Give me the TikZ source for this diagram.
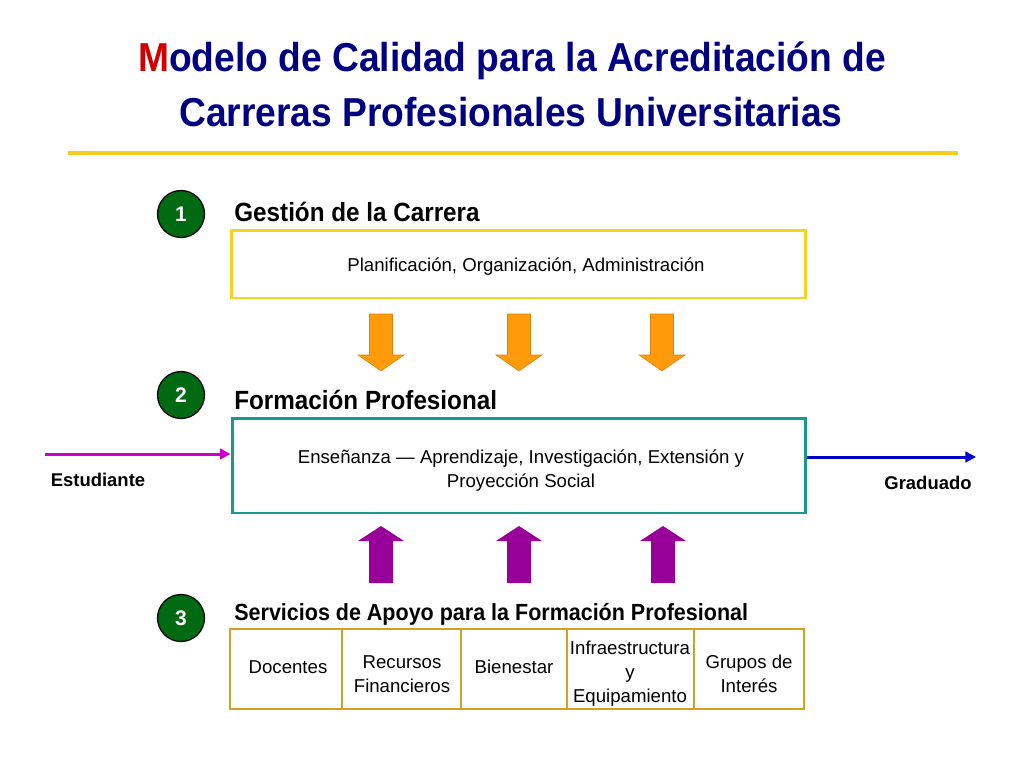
\documentclass[tikz,border=0pt]{standalone}
\usepackage{fontspec}
\setmainfont{Liberation Sans}
\newfontfamily\narrowfont[FakeStretch=0.92]{Liberation Sans}
\usepackage{tikz}
\usetikzlibrary{arrows.meta,positioning,calc}
\definecolor{titleblue}{HTML}{000080}
\definecolor{titlered}{HTML}{D00000}
\definecolor{ruleyellow}{HTML}{F5CC1F}
\definecolor{gestionyellow}{HTML}{F9D21E}
\definecolor{formacionteal}{HTML}{1A9A8F}
\definecolor{apoyogold}{HTML}{D4A11E}
\definecolor{levelgreen}{HTML}{006A12}
\definecolor{downorange}{HTML}{FF9A0A}
\definecolor{uppurple}{HTML}{990099}
\definecolor{inmagenta}{HTML}{CC00CC}
\definecolor{outblue}{HTML}{0000CC}
\tikzset{% 
  level circle/.style={%
    circle,
    draw=black,
    line width=0.7pt,
    fill=levelgreen,
    text=white,
    minimum size=0.94cm,
    inner sep=0pt,
    font=\bfseries\fontsize{12}{14}\selectfont
  }
}
\tikzset{% 
  heading/.style={%
    anchor=base west,
    inner sep=0pt,
    font=\narrowfont\bfseries\fontsize{15}{18}\selectfont
  }
}
\tikzset{% 
  apoyo box/.style={%
    draw=apoyogold,
    line width=1.6pt,
    minimum height=1.6cm,
    inner sep=0pt
  }
}
\tikzset{% 
  box text/.style={%
    align=center,
    inner sep=0pt,
    font=\fontsize{10.6}{13.6}\selectfont
  }
}
\tikzset{% 
  flow line/.style={%
    line width=1.7pt,
    -{Triangle[length=6pt,width=6pt]}
  }
}

\begin{document}
\begin{tikzpicture}[x=0.02cm,y=-0.02cm]
  \useasboundingbox (0,0) rectangle (1024,768);
  % title
  \node (title1) [anchor=base,inner sep=0pt,text=titleblue,
    font=\narrowfont\bfseries\fontsize{23}{28}\selectfont] at (512,71)
    {\textcolor{titlered}{M}odelo de Calidad para la Acreditación de};
  \node (title2) [anchor=base,inner sep=0pt,text=titleblue,
    font=\narrowfont\bfseries\fontsize{23}{28}\selectfont] at (511,126)
    {Carreras Profesionales Universitarias};
  \draw [ruleyellow,line width=1.8pt] (68,153) -- (958,153);
  % 1
  \node (one) [level circle] at (181,214) {1};
  \node (gestion) [heading] at (234,221) {Gestión de la Carrera};
  \node (gbox) [draw=gestionyellow,line width=1.7pt,minimum width=11.5cm,
    minimum height=1.36cm] at (518.5,264) {};
  \node (gtext) [box text] at (526,267)
    {Planificación, Organización, Administración};
  \foreach \cx in {381,519,662} {
    \filldraw [fill=downorange,draw=downorange!85!black,line width=0.3pt]
      ({\cx-11.5},314) -- ({\cx+11.5},314) -- ({\cx+11.5},355) -- ({\cx+23},355)
      -- (\cx,371) -- ({\cx-23},355) -- ({\cx-11.5},355) -- cycle;
  }
  % 2
  \node (two) [level circle] at (181,395) {2};
  \node (formacion) [heading] at (234,409) {Formación Profesional};
  \node (fbox) [draw=formacionteal,line width=1.7pt,minimum width=11.48cm,
    minimum height=1.9cm] at (519,465.5) {};
  \node (ftext) [box text] at (521,471)
    {Enseñanza — Aprendizaje, Investigación, Extensión y\\Proyección Social};
  \coordinate (in) at (45,454);
  \coordinate (out) at (976,457);
  \draw [flow line,inmagenta] (in) -- (in -| fbox.west);
  \draw [flow line,outblue] (out -| fbox.east) -- (out);
  \node (estudiante) [font=\bfseries\fontsize{10.5}{13}\selectfont]
    at (98,480) {Estudiante};
  \node (graduado) [font=\bfseries\fontsize{10.5}{13}\selectfont]
    at (928,483) {Graduado};
  \foreach \cx in {381,519,663} {
    \fill [uppurple]
      ({\cx-12},583) -- ({\cx+12},583) -- ({\cx+12},541) -- ({\cx+23},541)
      -- (\cx,526) -- ({\cx-23},541) -- ({\cx-12},541) -- cycle;
  }
  % 3
  \node (three) [level circle] at (181,618) {3};
  \node (servicios) [heading,font=\narrowfont\bfseries\fontsize{13.3}{16}\selectfont]
    at (234,620) {Servicios de Apoyo para la Formación Profesional};
  \node (docentes) [apoyo box,minimum width=2.24cm] at (286,669) {};
  \node (recursos) [apoyo box,minimum width=2.38cm] at (401.5,669) {};
  \node (bienestar) [apoyo box,minimum width=2.12cm] at (514,669) {};
  \node (infra) [apoyo box,minimum width=2.54cm] at (630.5,669) {};
  \node (grupos) [apoyo box,minimum width=2.2cm] at (749,669) {};
  \node (docentes text) [box text] at (288,667) {Docentes};
  \node (recursos text) [box text] at (402,674) {Recursos\\Financieros};
  \node (bienestar text) [box text] at (514,667) {Bienestar};
  \node (infra text) [box text] at (630,674) {Infraestructura\\y\\Equipamiento};
  \node (grupos text) [box text] at (749,674) {Grupos de\\Interés};
\end{tikzpicture}
\end{document}
